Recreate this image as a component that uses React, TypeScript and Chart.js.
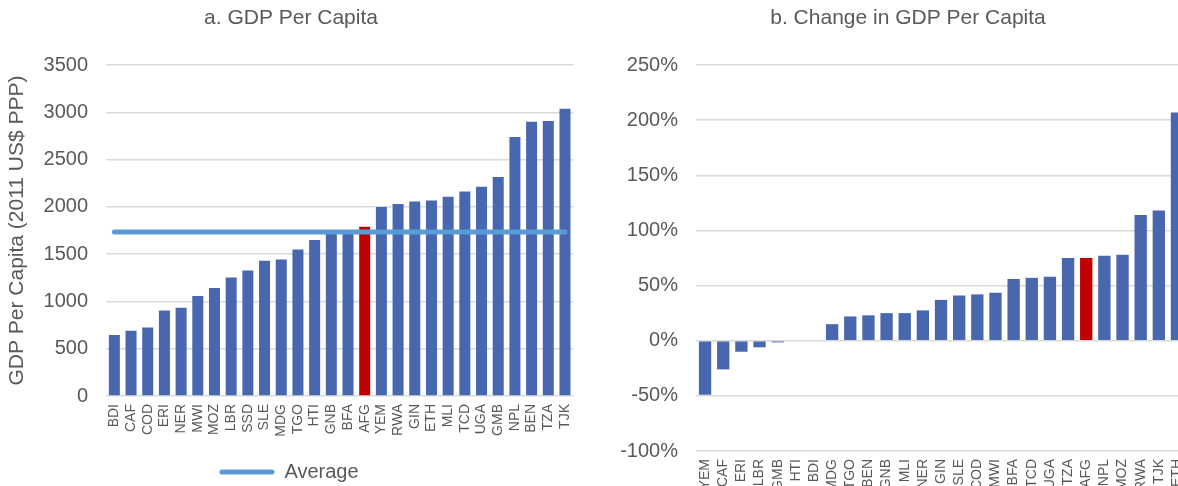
import React, { useEffect, useRef } from 'react';
import { Chart, registerables } from 'chart.js';

Chart.register(...registerables);

// ---------- Data ----------
const gdpCountries = ['BDI', 'CAF', 'COD', 'ERI', 'NER', 'MWI', 'MOZ', 'LBR', 'SSD', 'SLE', 'MDG', 'TGO', 'HTI', 'GNB', 'BFA', 'AFG', 'YEM', 'RWA', 'GIN', 'ETH', 'MLI', 'TCD', 'UGA', 'GMB', 'NPL', 'BEN', 'TZA', 'TJK'];
const gdpValues = [645, 690, 725, 905, 933, 1057, 1142, 1254, 1328, 1430, 1444, 1550, 1649, 1720, 1730, 1790, 1998, 2030, 2057, 2068, 2107, 2163, 2213, 2315, 2738, 2900, 2907, 3037];
const gdpAverage = 1735;

const changeCountries = ['YEM', 'CAF', 'ERI', 'LBR', 'GMB', 'HTI', 'BDI', 'MDG', 'TGO', 'BEN', 'GNB', 'MLI', 'NER', 'GIN', 'SLE', 'COD', 'MWI', 'BFA', 'TCD', 'UGA', 'TZA', 'AFG', 'NPL', 'MOZ', 'RWA', 'TJK', 'ETH'];
const changeValues = [-49, -26, -10, -6, -1.5, 0, 0, 15, 22, 23, 25, 25, 27.5, 37, 41, 42, 43.5, 56, 57, 58, 75, 75, 77, 78, 114, 118, 207];

const highlightCountry = 'AFG';

const titleA = 'a. GDP Per Capita';
const titleB = 'b. Change in GDP Per Capita';
const yTitleA = 'GDP Per Capita (2011 US$ PPP)';
const averageLabel = 'Average';

// ---------- Styles ----------
const FONT = '"Liberation Sans", Arial, Helvetica, sans-serif';
const TEXT = '#595959';
const GRID = '#D9D9D9';
const BAR = '#4967AE';
const RED = '#C00000';
const AVG = '#5B9BD5';

Chart.defaults.font.family = FONT;
Chart.defaults.color = TEXT;

const makeTitlePlugin = (text: string, centerX: number) => ({
  id: 'panelTitle',
  afterDraw(chart: any) {
    const ctx = chart.ctx;
    ctx.save();
    ctx.font = `21px ${FONT}`;
    ctx.fillStyle = TEXT;
    ctx.textAlign = 'center';
    ctx.textBaseline = 'middle';
    ctx.fillText(text, centerX, 18);
    ctx.restore();
  },
});

function LeftChart() {
  const ref = useRef<HTMLCanvasElement>(null);
  useEffect(() => {
    if (!ref.current) return;
    const chart = new Chart(ref.current, {
      type: 'bar',
      data: {
        labels: gdpCountries,
        datasets: [
          {
            type: 'bar',
            label: 'GDP per capita',
            data: gdpValues,
            backgroundColor: gdpCountries.map((c) => (c === highlightCountry ? RED : BAR)),
            barPercentage: 0.66,
            categoryPercentage: 1,
            order: 1,
          } as any,
          {
            type: 'line',
            label: averageLabel,
            data: gdpCountries.map(() => gdpAverage),
            borderColor: AVG,
            backgroundColor: AVG,
            borderWidth: 5,
            borderCapStyle: 'round',
            pointRadius: 0,
            order: 0,
          } as any,
        ],
      },
      options: {
        responsive: false,
        animation: false,
        layout: { padding: { top: 65, right: 12, left: 0, bottom: 0 } },
        plugins: {
          title: { display: false },
          tooltip: { enabled: false },
          legend: {
            display: true,
            position: 'bottom',
            labels: {
              boxWidth: 55,
              boxHeight: 5,
              padding: 10,
              color: TEXT,
              font: { size: 20, family: FONT },
              useBorderRadius: true,
              borderRadius: 2.5,
              filter: (item: any) => item.datasetIndex === 1,
              generateLabels: (c: any) =>
                (Chart.defaults.plugins.legend.labels as any)
                  .generateLabels(c)
                  .map((l: any) => ({ ...l, lineWidth: 0 })),
            },
          },
        },
        scales: {
          x: {
            grid: { display: false, drawTicks: false },
            border: { display: false },
            ticks: {
              autoSkip: false,
              maxRotation: 90,
              minRotation: 90,
              padding: 8,
              color: TEXT,
              font: { size: 14, family: FONT },
            },
            afterFit: (s: any) => {
              s.height = 56;
            },
          },
          y: {
            min: 0,
            max: 3500,
            ticks: {
              stepSize: 500,
              padding: 18,
              color: TEXT,
              font: { size: 20, family: FONT },
              callback: (v: any) => String(v),
            },
            grid: { color: GRID, lineWidth: 1.5, drawTicks: false },
            border: { display: false },
            title: {
              display: true,
              text: yTitleA,
              color: TEXT,
              font: { size: 21, family: FONT },
              padding: { top: 5, bottom: 0 },
            },
            afterFit: (s: any) => {
              s.width = 106;
            },
          },
        },
      } as any,
      plugins: [makeTitlePlugin(titleA, 291)],
    });
    return () => chart.destroy();
  }, []);
  return <canvas ref={ref} width={590} height={492} style={{ position: 'absolute', left: 0, top: 0 }} />;
}

function RightChart() {
  const ref = useRef<HTMLCanvasElement>(null);
  useEffect(() => {
    if (!ref.current) return;
    const chart = new Chart(ref.current, {
      type: 'bar',
      data: {
        labels: changeCountries,
        datasets: [
          {
            label: 'Change in GDP per capita',
            data: changeValues,
            backgroundColor: changeCountries.map((c) => (c === highlightCountry ? RED : BAR)),
            barPercentage: 0.68,
            categoryPercentage: 1,
          },
        ],
      },
      options: {
        responsive: false,
        animation: false,
        layout: { padding: { top: 65, right: 12, left: 0, bottom: 0 } },
        plugins: {
          title: { display: false },
          tooltip: { enabled: false },
          legend: { display: false },
        },
        scales: {
          x: {
            grid: { display: false, drawTicks: false },
            border: { display: false },
            ticks: {
              autoSkip: false,
              maxRotation: 90,
              minRotation: 90,
              padding: 8,
              color: TEXT,
              font: { size: 14, family: FONT },
            },
            afterFit: (s: any) => {
              s.height = 69;
            },
          },
          y: {
            min: -100,
            max: 250,
            ticks: {
              stepSize: 50,
              padding: 18,
              color: TEXT,
              font: { size: 20, family: FONT },
              callback: (v: any) => `${v}%`,
            },
            grid: { color: GRID, lineWidth: 1.5, drawTicks: false },
            border: { display: false },
            afterFit: (s: any) => {
              s.width = 106;
            },
          },
        },
      } as any,
      plugins: [makeTitlePlugin(titleB, 318)],
    });
    return () => chart.destroy();
  }, []);
  return <canvas ref={ref} width={612} height={520} style={{ position: 'absolute', left: 590, top: 0 }} />;
}

export default function App() {
  return (
    <div
      style={{
        position: 'fixed',
        left: 0,
        top: 0,
        width: 1178,
        height: 486,
        overflow: 'hidden',
        background: '#ffffff',
      }}
    >
      <LeftChart />
      <RightChart />
    </div>
  );
}
